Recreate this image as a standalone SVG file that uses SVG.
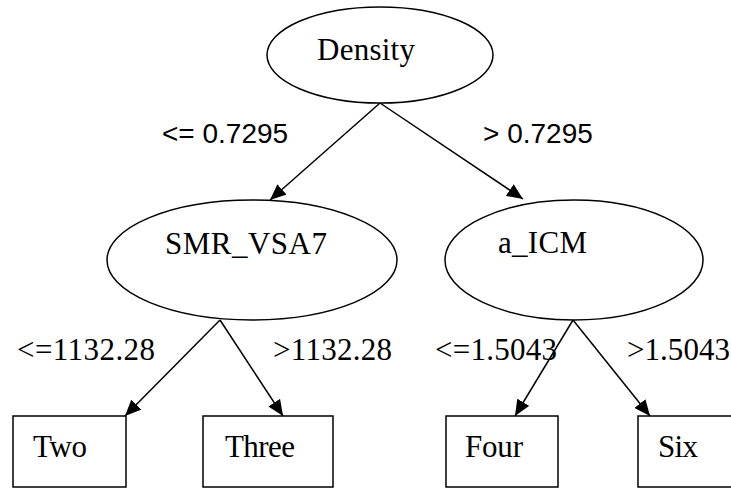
<svg xmlns="http://www.w3.org/2000/svg" width="731" height="489" viewBox="0 0 731 489">
<style>
.node{fill:#fff;stroke:#000;stroke-width:1.5}
.nt{font-family:"Liberation Serif","Times New Roman",serif;font-size:31px;fill:#000}
.el{font-family:"Liberation Sans",Arial,sans-serif;font-size:28px;fill:#000}
.es{font-family:"Liberation Serif","Times New Roman",serif;font-size:31px;fill:#000}
.edge{stroke:#000;stroke-width:1.5;fill:none;marker-end:url(#arr)}
</style>
<defs>
<marker id="arr" markerUnits="userSpaceOnUse" markerWidth="16" markerHeight="14" viewBox="0 0 16 14" refX="16" refY="7" orient="auto">
<path d="M0,0 L16,7 L0,14 Z" fill="#000"/>
</marker>
</defs>
<rect width="731" height="489" fill="#fff"/>
<g id="connectors">
<line class="edge" x1="380" y1="103" x2="270" y2="200"/>
<line class="edge" x1="380" y1="103" x2="523" y2="199"/>
<line class="edge" x1="220" y1="320" x2="125" y2="416"/>
<line class="edge" x1="220" y1="320" x2="283" y2="416"/>
<line class="edge" x1="573" y1="320" x2="515" y2="416"/>
<line class="edge" x1="573" y1="320" x2="650" y2="416"/>
<text class="el" x="162" y="143">&lt;= 0.7295</text>
<text class="el" x="483" y="143">&gt; 0.7295</text>
<text class="es" x="17" y="360" textLength="138">&lt;=1132.28</text>
<text class="es" x="273" y="360" textLength="119">&gt;1132.28</text>
<text class="es" x="435" y="360" textLength="122">&lt;=1.5043</text>
<text class="es" x="627" y="360" textLength="103">&gt;1.5043</text>
</g>
<g id="density">
<ellipse class="node" cx="380" cy="55" rx="113" ry="48"/>
<text class="nt" x="317" y="60" textLength="98">Density</text>
</g>
<g id="smr_vsa7">
<ellipse class="node" cx="252" cy="260" rx="145" ry="60"/>
<text class="nt" x="165" y="254" textLength="162">SMR_VSA7</text>
</g>
<g id="a_icm">
<ellipse class="node" cx="574" cy="260" rx="129" ry="60"/>
<text class="nt" x="498" y="253" textLength="89">a_ICM</text>
</g>
<g id="two">
<rect class="node" x="13" y="416" width="113" height="71"/>
<text class="nt" x="33" y="457" textLength="54">Two</text>
</g>
<g id="three">
<rect class="node" x="203" y="416" width="130" height="71"/>
<text class="nt" x="225" y="457" textLength="70">Three</text>
</g>
<g id="four">
<rect class="node" x="446" y="416" width="112" height="71"/>
<text class="nt" x="465" y="457" textLength="58">Four</text>
</g>
<g id="six">
<rect class="node" x="638" y="416" width="100" height="71"/>
<text class="nt" x="658" y="457" textLength="40">Six</text>
</g>
</svg>
